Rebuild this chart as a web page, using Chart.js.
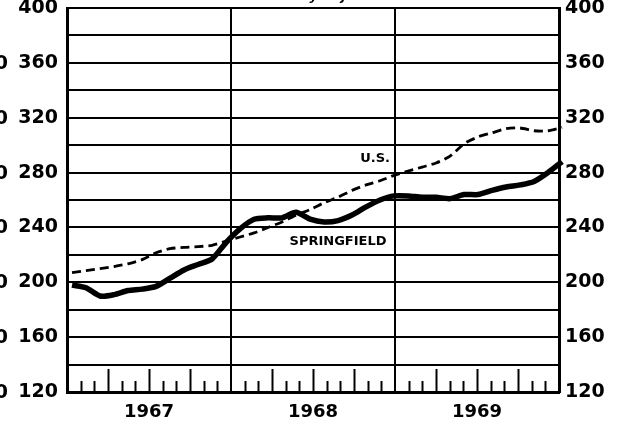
<!DOCTYPE html>
<html>
<head>
<meta charset="utf-8">
<script src="https://cdn.jsdelivr.net/npm/chart.js@4.4.1/dist/chart.umd.min.js"></script>
<style>
  body { margin: 0; background: #fff; }
  canvas { display: block; }
</style>
</head>
<body>
<canvas id="chart" width="627" height="425"></canvas>
<script>
const years = ['1967', '1968', '1969'];
const monthNames = ['Jan', 'Feb', 'Mar', 'Apr', 'May', 'Jun', 'Jul', 'Aug', 'Sep', 'Oct', 'Nov', 'Dec'];
const months = [];
years.forEach(y => monthNames.forEach(m => months.push(m + ' ' + y)));

// monthly, seasonally adjusted
const springfieldValues = [
    198, 196, 190, 191, 194, 195, 197, 203, 209, 213, 217, 229,
    239, 246, 247, 247, 251, 246, 244, 245, 249, 255, 260, 263,
    263, 262, 262, 261, 264, 264, 267, 269.5, 271, 273.5, 280, 288
];
const usValues = [
    207, 208.5, 210, 211.5, 213.5, 216.5, 221.5, 224.5, 225.5, 226, 227, 230,
    233, 236, 240, 244, 249, 253, 258, 262, 267, 271, 274, 278,
    281, 284, 287, 292, 301, 306, 309, 312, 312.5, 310.5, 310.5, 313
];
const yMin = 120;
const yMax = 400;
const yLabelStep = 40;

const FONT = '"DejaVu Sans", sans-serif';

const decor = {
    id: 'decor',
    afterDraw(chart) {
        const ctx = chart.ctx;
        const area = chart.chartArea;
        const mScale = chart.scales.months;
        const xs = chart.scales.x;
        const ys = chart.scales.y;
        ctx.save();

        // month ticks along the bottom, taller every quarter
        ctx.strokeStyle = '#000';
        ctx.lineWidth = 2;
        for (let k = 1; k < months.length; k++) {
            if (k % 12 === 0) continue;
            const px = Math.round(mScale.getPixelForValue(k)) + 0.5;
            const len = k % 3 === 0 ? 23 : 11;
            ctx.beginPath();
            ctx.moveTo(px, area.bottom);
            ctx.lineTo(px, area.bottom - len);
            ctx.stroke();
        }

        // series labels
        ctx.fillStyle = '#000';
        ctx.font = 'bold 13px ' + FONT;
        ctx.textAlign = 'center';
        ctx.textBaseline = 'middle';
        ctx.fillText('U.S.', xs.getPixelForValue(21.65), ys.getPixelForValue(290.5));
        ctx.fillText('SPRINGFIELD', xs.getPixelForValue(19), ys.getPixelForValue(229.7));

        // title, mostly cut off at the top edge
        ctx.font = 'italic bold 13px ' + FONT;
        ctx.textBaseline = 'alphabetic';
        ctx.fillText('Seasonally Adjusted', 313, 0);

        // leftover digits of an outer scale, cut off at the left edge
        ctx.font = 'bold 19px ' + FONT;
        ctx.textAlign = 'right';
        ctx.textBaseline = 'middle';
        for (let v = yMin; v < yMax; v += yLabelStep) {
            ctx.fillText('0', 8, ys.getPixelForValue(v) + 1);
        }
        ctx.restore();
    }
};

function fixWidth(w) {
    return function(scale) {
        scale.width = w;
        scale.paddingTop = 0;
        scale.paddingBottom = 0;
    };
}

const yTickCallback = v => ((v - yMin) % yLabelStep === 0 ? String(v) : '');

new Chart(document.getElementById('chart'), {
    type: 'line',
    data: {
        datasets: [
            {
                label: 'SPRINGFIELD',
                data: springfieldValues.map((v, i) => ({ x: i, y: v })),
                borderColor: '#000',
                borderWidth: 5.5,
                pointRadius: 0,
                tension: 0.25,
                clip: false,
                xAxisID: 'x',
                yAxisID: 'y'
            },
            {
                label: 'U.S.',
                data: usValues.map((v, i) => ({ x: i, y: v })),
                borderColor: '#000',
                borderWidth: 2.8,
                borderDash: [9, 5],
                pointRadius: 0,
                tension: 0.25,
                clip: false,
                xAxisID: 'x',
                yAxisID: 'y'
            }
        ]
    },
    options: {
        responsive: false,
        animation: false,
        layout: { padding: { top: 8, left: 0, right: 0, bottom: 0 } },
        plugins: {
            legend: { display: false },
            tooltip: { enabled: false }
        },
        scales: {
            x: {
                type: 'linear',
                display: false,
                min: -0.36,
                max: 34.78
            },
            months: {
                type: 'linear',
                position: 'bottom',
                min: 0,
                max: months.length,
                afterBuildTicks(scale) {
                    const t = [];
                    years.forEach((y, j) => { t.push({ value: j * 12 }); t.push({ value: j * 12 + 6 }); });
                    t.push({ value: months.length });
                    scale.ticks = t;
                },
                afterFit(scale) {
                    scale.height = 33;
                    scale.paddingLeft = 0;
                    scale.paddingRight = 0;
                },
                grid: {
                    drawTicks: false,
                    lineWidth: 2,
                    color: c => (c.tick && c.tick.value % 12 === 0 && c.tick.value > 0 && c.tick.value < months.length ? '#000' : 'rgba(0,0,0,0)')
                },
                border: { display: true, color: '#000', width: 3 },
                ticks: {
                    autoSkip: false,
                    maxRotation: 0,
                    padding: 10,
                    color: '#000',
                    font: { family: FONT, size: 18, weight: 'bold' },
                    callback: v => (v % 12 === 6 ? years[(v - 6) / 12] : '')
                }
            },
            y: {
                type: 'linear',
                position: 'left',
                min: yMin,
                max: yMax,
                afterFit: fixWidth(67),
                grid: { drawTicks: false, lineWidth: 2, color: '#000' },
                border: { display: true, color: '#000', width: 3 },
                ticks: {
                    stepSize: 20,
                    padding: 9,
                    color: '#000',
                    font: { family: FONT, size: 19, weight: 'bold' },
                    callback: yTickCallback
                }
            },
            y2: {
                type: 'linear',
                position: 'right',
                min: yMin,
                max: yMax,
                afterFit: fixWidth(68),
                grid: { drawTicks: false, drawOnChartArea: false },
                border: { display: true, color: '#000', width: 3 },
                ticks: {
                    stepSize: 20,
                    padding: 6,
                    color: '#000',
                    font: { family: FONT, size: 19, weight: 'bold' },
                    callback: yTickCallback
                }
            }
        }
    },
    plugins: [decor]
});
</script>
</body>
</html>
